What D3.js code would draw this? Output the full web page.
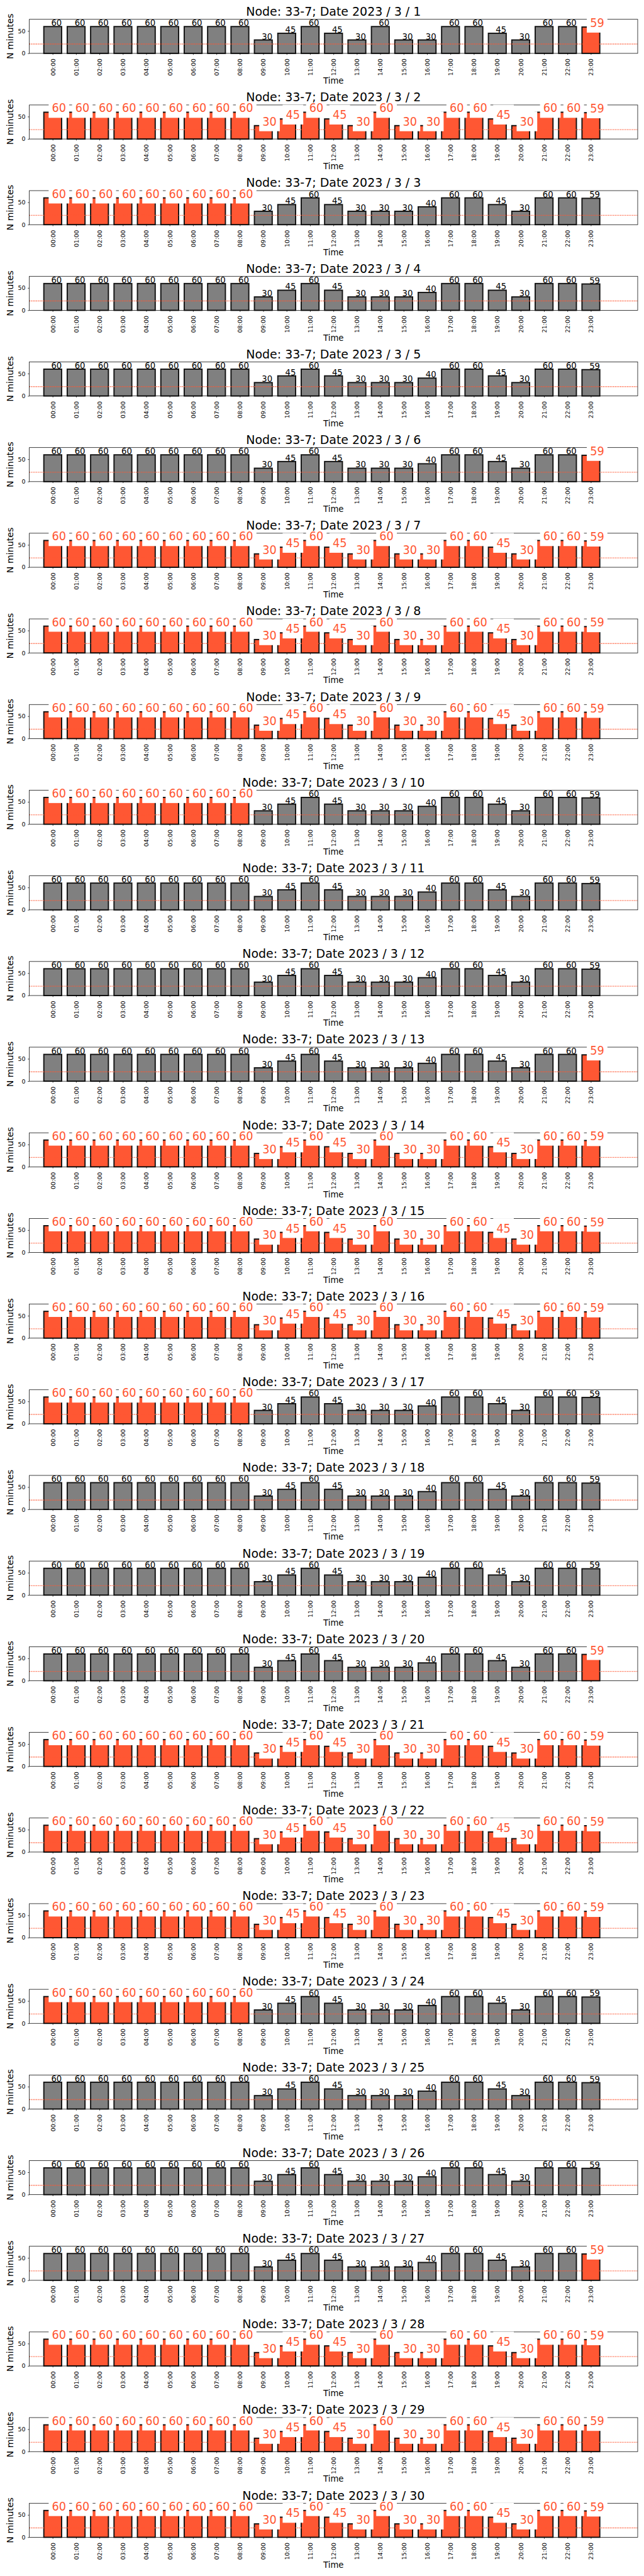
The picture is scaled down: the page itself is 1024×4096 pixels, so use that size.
<!DOCTYPE html>
<html>
<head>
<meta charset="utf-8">
<script src="https://cdn.jsdelivr.net/npm/d3@7"></script>
<style>
html,body{margin:0;padding:0;background:#fff;}
svg{display:block;}
</style>
</head>
<body>
<script>
// ---------------- data ----------------
const nodeName = "33-7";
const yearLabel = "2023";
const monthLabel = "3";
const dayLabels = ["1","2","3","4","5","6","7","8","9","10","11","12","13","14","15",
                   "16","17","18","19","20","21","22","23","24","25","26","27","28","29","30"];
const hourLabels = ["00:00","01:00","02:00","03:00","04:00","05:00","06:00","07:00",
                    "08:00","09:00","10:00","11:00","12:00","13:00","14:00","15:00",
                    "16:00","17:00","18:00","19:00","20:00","21:00","22:00","23:00"];
const yTickValues = [0, 50];
const thresholdMinutes = 21;
const yMaxMinutes = 76.25;

// minutes per hour, one row per day (3/1 .. 3/30)
const minutesByDay = [
  [60,60,60,60,60,60,60,60,60,30,45,60,45,30,60,30,30,60,60,45,30,60,60,59], // 1
  [60,60,60,60,60,60,60,60,60,30,45,60,45,30,60,30,30,60,60,45,30,60,60,59], // 2
  [60,60,60,60,60,60,60,60,60,30,45,60,45,30,30,30,40,60,60,45,30,60,60,59], // 3
  [60,60,60,60,60,60,60,60,60,30,45,60,45,30,30,30,40,60,60,45,30,60,60,59], // 4
  [60,60,60,60,60,60,60,60,60,30,45,60,45,30,30,30,40,60,60,45,30,60,60,59], // 5
  [60,60,60,60,60,60,60,60,60,30,45,60,45,30,30,30,40,60,60,45,30,60,60,59], // 6
  [60,60,60,60,60,60,60,60,60,30,45,60,45,30,60,30,30,60,60,45,30,60,60,59], // 7
  [60,60,60,60,60,60,60,60,60,30,45,60,45,30,60,30,30,60,60,45,30,60,60,59], // 8
  [60,60,60,60,60,60,60,60,60,30,45,60,45,30,60,30,30,60,60,45,30,60,60,59], // 9
  [60,60,60,60,60,60,60,60,60,30,45,60,45,30,30,30,40,60,60,45,30,60,60,59], // 10
  [60,60,60,60,60,60,60,60,60,30,45,60,45,30,30,30,40,60,60,45,30,60,60,59], // 11
  [60,60,60,60,60,60,60,60,60,30,45,60,45,30,30,30,40,60,60,45,30,60,60,59], // 12
  [60,60,60,60,60,60,60,60,60,30,45,60,45,30,30,30,40,60,60,45,30,60,60,59], // 13
  [60,60,60,60,60,60,60,60,60,30,45,60,45,30,60,30,30,60,60,45,30,60,60,59], // 14
  [60,60,60,60,60,60,60,60,60,30,45,60,45,30,60,30,30,60,60,45,30,60,60,59], // 15
  [60,60,60,60,60,60,60,60,60,30,45,60,45,30,60,30,30,60,60,45,30,60,60,59], // 16
  [60,60,60,60,60,60,60,60,60,30,45,60,45,30,30,30,40,60,60,45,30,60,60,59], // 17
  [60,60,60,60,60,60,60,60,60,30,45,60,45,30,30,30,40,60,60,45,30,60,60,59], // 18
  [60,60,60,60,60,60,60,60,60,30,45,60,45,30,30,30,40,60,60,45,30,60,60,59], // 19
  [60,60,60,60,60,60,60,60,60,30,45,60,45,30,30,30,40,60,60,45,30,60,60,59], // 20
  [60,60,60,60,60,60,60,60,60,30,45,60,45,30,60,30,30,60,60,45,30,60,60,59], // 21
  [60,60,60,60,60,60,60,60,60,30,45,60,45,30,60,30,30,60,60,45,30,60,60,59], // 22
  [60,60,60,60,60,60,60,60,60,30,45,60,45,30,60,30,30,60,60,45,30,60,60,59], // 23
  [60,60,60,60,60,60,60,60,60,30,45,60,45,30,30,30,40,60,60,45,30,60,60,59], // 24
  [60,60,60,60,60,60,60,60,60,30,45,60,45,30,30,30,40,60,60,45,30,60,60,59], // 25
  [60,60,60,60,60,60,60,60,60,30,45,60,45,30,30,30,40,60,60,45,30,60,60,59], // 26
  [60,60,60,60,60,60,60,60,60,30,45,60,45,30,30,30,40,60,60,45,30,60,60,59], // 27
  [60,60,60,60,60,60,60,60,60,30,45,60,45,30,60,30,30,60,60,45,30,60,60,59], // 28
  [60,60,60,60,60,60,60,60,60,30,45,60,45,30,60,30,30,60,60,45,30,60,60,59], // 29
  [60,60,60,60,60,60,60,60,60,30,45,60,45,30,60,30,30,60,60,45,30,60,60,59]  // 30
];

// 1 = highlighted (orange) hour
const highlightByDay = [
  "000000000000000000000001", // 1
  "111111111111111111111111", // 2
  "111111111000000000000000", // 3
  "000000000000000000000000", // 4
  "000000000000000000000000", // 5
  "000000000000000000000001", // 6
  "111111111111111111111111", // 7
  "111111111111111111111111", // 8
  "111111111111111111111111", // 9
  "111111111000000000000000", // 10
  "000000000000000000000000", // 11
  "000000000000000000000000", // 12
  "000000000000000000000001", // 13
  "111111111111111111111111", // 14
  "111111111111111111111111", // 15
  "111111111111111111111111", // 16
  "111111111000000000000000", // 17
  "000000000000000000000000", // 18
  "000000000000000000000000", // 19
  "000000000000000000000001", // 20
  "111111111111111111111111", // 21
  "111111111111111111111111", // 22
  "111111111111111111111111", // 23
  "111111111000000000000000", // 24
  "000000000000000000000000", // 25
  "000000000000000000000000", // 26
  "000000000000000000000001", // 27
  "111111111111111111111111", // 28
  "111111111111111111111111", // 29
  "111111111111111111111111"  // 30
];

// ---------------- styling / layout (reference pixel units) ----------------
const REF_W = 1500, REF_H = 6000;
const OUT_W = 1024, OUT_H = 4096;
const k = OUT_W / REF_W;

const ORANGE = "#FF5733";
const GRAY = "#808080";
const EDGE = "#111111";
const FONT = "'DejaVu Sans', sans-serif";
const FONT_COND = "'DejaVu Sans Condensed', 'DejaVu Sans', sans-serif";

const axLeft = 68.3, axRight = 1485.3;
const axHeight = 79.3;
const firstTop = 45, rowStep = 199.5;

const svg = d3.select("body").append("svg")
  .attr("width", OUT_W).attr("height", OUT_H)
  .attr("viewBox", `0 0 ${OUT_W} ${OUT_H}`);
svg.append("rect").attr("width", OUT_W).attr("height", OUT_H).attr("fill", "#fff");

const root = svg.append("g").attr("transform", `scale(${k})`);

const x = d3.scaleLinear().domain([-1, 25]).range([axLeft, axRight]);
const step = x(1) - x(0);
const barW = 0.76 * step;
const xMid = (axLeft + axRight) / 2;

minutesByDay.forEach((vals, di) => {
  const top = firstTop + di * rowStep;
  const bottom = top + axHeight;
  const y = d3.scaleLinear().domain([0, yMaxMinutes]).range([bottom, top]);
  const mask = highlightByDay[di];
  const g = root.append("g");

  const data = vals.map((v, h) => ({h, v, hi: mask[h] === "1"}));

  // bars
  g.selectAll("rect.bar").data(data).enter().append("rect")
    .attr("class", "bar")
    .attr("x", d => x(d.h) - barW / 2)
    .attr("width", barW)
    .attr("y", d => y(d.v))
    .attr("height", d => y(0) - y(d.v))
    .attr("fill", d => d.hi ? ORANGE : GRAY)
    .attr("stroke", EDGE)
    .attr("stroke-width", 2.8);

  // threshold line
  g.append("line")
    .attr("x1", axLeft).attr("x2", axRight)
    .attr("y1", y(thresholdMinutes)).attr("y2", y(thresholdMinutes))
    .attr("stroke", ORANGE).attr("stroke-width", 2)
    .attr("stroke-dasharray", "2 2");

  // frame
  g.append("rect")
    .attr("x", axLeft).attr("y", top)
    .attr("width", axRight - axLeft).attr("height", axHeight)
    .attr("fill", "none").attr("stroke", "#000").attr("stroke-width", 1.1);

  // x axis
  const xAxis = d3.axisBottom(x)
    .tickValues(d3.range(hourLabels.length))
    .tickFormat(i => hourLabels[i])
    .tickSize(3.5).tickSizeOuter(0);
  const gx = g.append("g").attr("transform", `translate(0,${bottom})`).call(xAxis);
  gx.select(".domain").remove();
  gx.selectAll(".tick line").attr("stroke", "#000").attr("stroke-width", 1.1);
  gx.selectAll(".tick text")
    .attr("x", -12.4).attr("y", 0).attr("dy", "0.36em")
    .attr("transform", "rotate(-90)")
    .style("text-anchor", "end")
    .attr("fill", "#000")
    .style("font-family", FONT).style("font-size", "13.9px");

  // y axis
  const yAxis = d3.axisLeft(y).tickValues(yTickValues).tickSize(3.5).tickPadding(5.5).tickSizeOuter(0);
  const gy = g.append("g").attr("transform", `translate(${axLeft},0)`).call(yAxis);
  gy.select(".domain").remove();
  gy.selectAll(".tick line").attr("stroke", "#000").attr("stroke-width", 1.1);
  gy.selectAll(".tick text").attr("fill", "#000")
    .style("font-family", FONT).style("font-size", "13.9px");

  // value labels (plain)
  g.selectAll("text.val").data(data.filter(d => !d.hi)).enter().append("text")
    .attr("class", "val")
    .attr("x", d => x(d.h) - 3.5)
    .attr("y", d => y(d.v) - 1.5)
    .attr("text-anchor", "start")
    .style("font-family", FONT).style("font-size", "19.4px")
    .attr("fill", "#000")
    .text(d => d.v);

  // value labels (highlighted, boxed)
  data.filter(d => d.hi).forEach(d => {
    const cx = x(d.h) + 14.5;
    g.append("rect")
      .attr("x", cx - 24).attr("width", 48)
      .attr("y", y(d.v) - 33).attr("height", 46)
      .attr("fill", "#fff");
    g.append("text")
      .attr("x", cx).attr("y", y(d.v))
      .attr("text-anchor", "middle")
      .style("font-family", FONT_COND).style("font-stretch", "condensed")
      .style("font-size", "28.8px")
      .attr("fill", ORANGE)
      .text(d.v);
  });

  // axis titles
  g.append("text")
    .attr("transform", `translate(30.7,${top + axHeight / 2}) rotate(-90)`)
    .attr("text-anchor", "middle")
    .style("font-family", FONT).style("font-size", "20.8px")
    .text("N minutes");
  g.append("text")
    .attr("x", xMid).attr("y", top + 150)
    .attr("text-anchor", "middle")
    .style("font-family", FONT).style("font-size", "19.4px")
    .text("Time");

  // title
  g.append("text")
    .attr("x", xMid).attr("y", top - 8.3)
    .attr("text-anchor", "middle")
    .style("font-family", FONT).style("font-size", "27.8px")
    .text(`Node: ${nodeName}; Date ${yearLabel} / ${monthLabel} / ${dayLabels[di]}`);
});
</script>
</body>
</html>
